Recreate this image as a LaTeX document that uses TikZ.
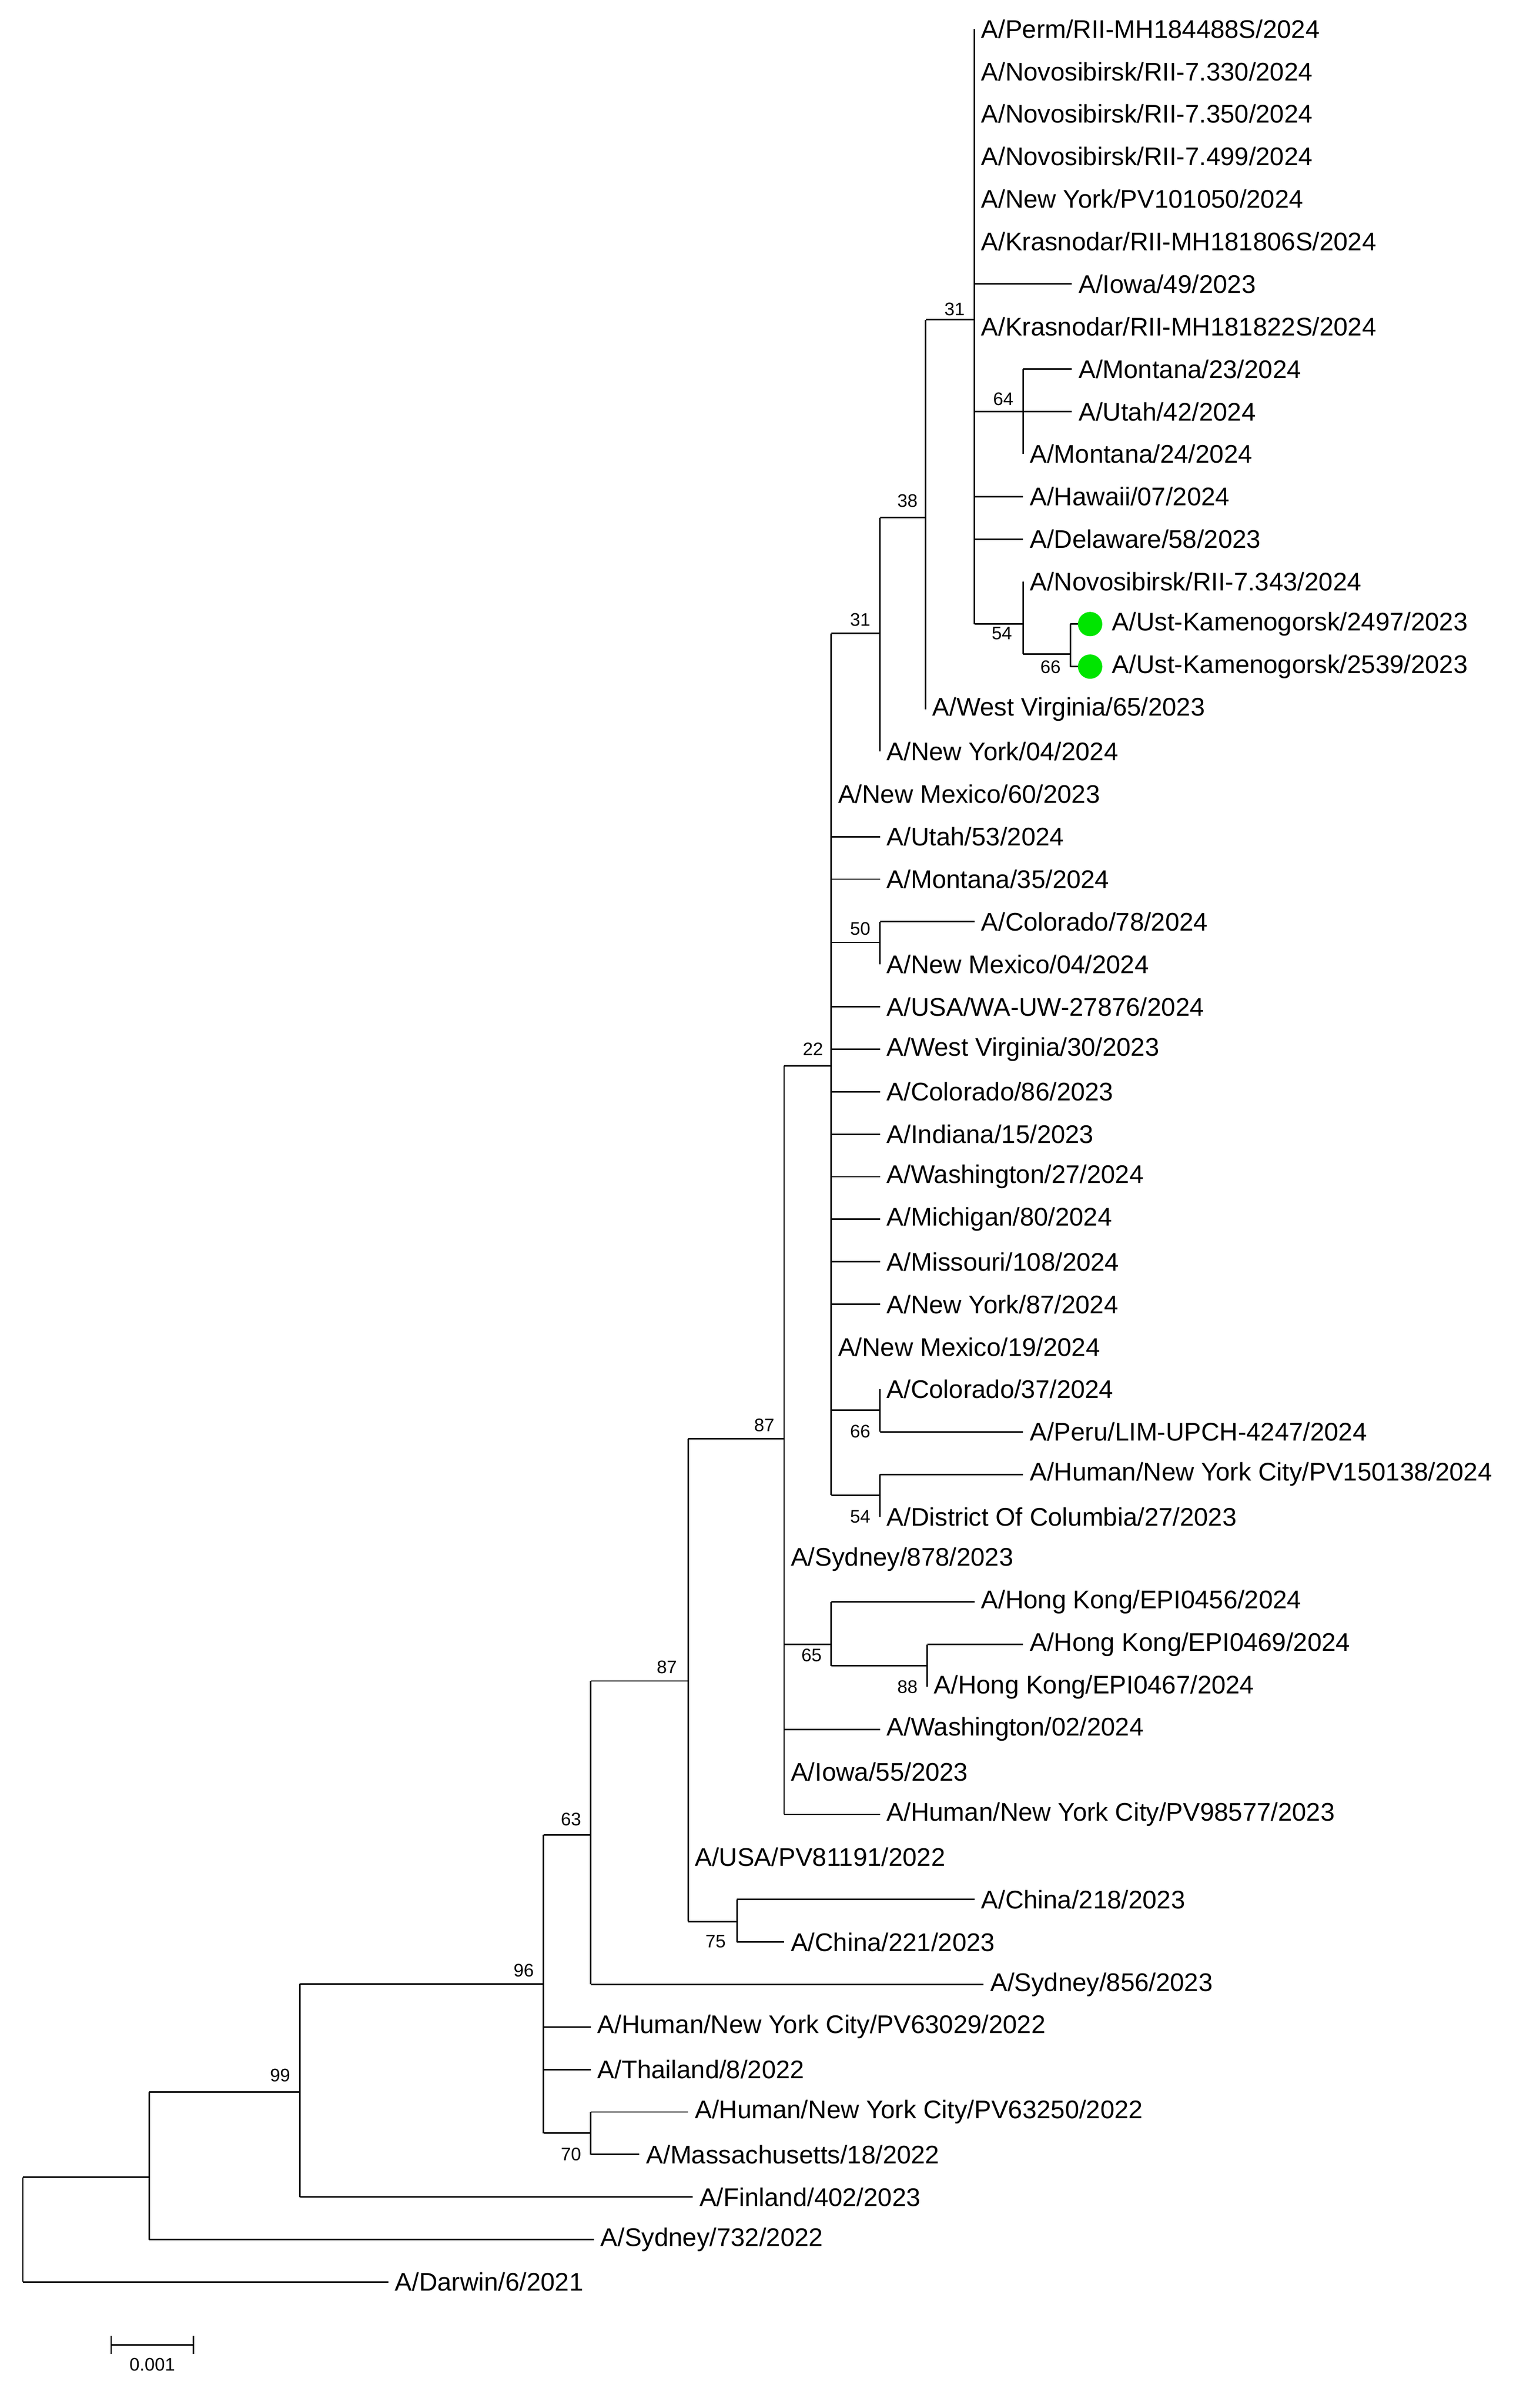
\documentclass[tikz,border=0pt]{standalone}
\usepackage{fontspec}
\setmainfont{Liberation Sans}
\newcommand\R[1]{(19+27.92*(#1))}
\newcommand\leaf[4]{\draw (#2,{\R{#1}}) -- (#3,{\R{#1}}); \node[lf] at ({#3+4},{\R{#1}}) {#4};}
\newcommand\vl[3]{\draw (#1,{\R{#2}}) -- (#1,{\R{#3}});}
\newcommand\bs[3]{\node[bsl] at (#1,#2) {#3};}
\begin{document}
\begin{tikzpicture}[x=0.025cm,y=-0.025cm,line width=0.7pt,
 lf/.style={anchor=west,inner sep=0pt,font=\fontsize{11.9}{12}\selectfont},
 bsl/.style={inner sep=0pt,font=\fontsize{8.5}{9}\selectfont}]
\useasboundingbox (0,0) rectangle (1000,1581.5);
% clade 31 top at x=640
\vl{640}{0}{14}
\leaf{0}{640}{640}{A/Perm/RII-MH184488S/2024}
\leaf{1}{640}{640}{A/Novosibirsk/RII-7.330/2024}
\leaf{2}{640}{640}{A/Novosibirsk/RII-7.350/2024}
\leaf{3}{640}{640}{A/Novosibirsk/RII-7.499/2024}
\leaf{4}{640}{640}{A/New York/PV101050/2024}
\leaf{5}{640}{640}{A/Krasnodar/RII-MH181806S/2024}
\leaf{7}{640}{640}{A/Krasnodar/RII-MH181822S/2024}
\leaf{6}{640}{704}{A/Iowa/49/2023}
\leaf{9}{640}{672}{}
\vl{672}{8}{10}
\leaf{8}{672}{704}{A/Montana/23/2024}
\leaf{9}{672}{704}{A/Utah/42/2024}
\leaf{10}{672}{672}{A/Montana/24/2024}
\bs{659}{262}{64}
\leaf{11}{640}{672}{A/Hawaii/07/2024}
\leaf{12}{640}{672}{A/Delaware/58/2023}
\leaf{14}{640}{672}{}
\vl{672}{13}{14.7}
\leaf{13}{672}{672}{A/Novosibirsk/RII-7.343/2024}
\leaf{14.7}{672}{703}{}
\vl{703}{14}{15}
\draw (703,{\R{14}}) -- (710,{\R{14}}); \draw (703,{\R{15}}) -- (710,{\R{15}});
\fill[green!90!black] (716,{\R{14}}) circle (8); \fill[green!90!black] (716,{\R{15}}) circle (8);
\node[lf] at (730,{\R{14}}) {A/Ust-Kamenogorsk/2497/2023};
\node[lf] at (730,{\R{15}}) {A/Ust-Kamenogorsk/2539/2023};
\bs{658}{416}{54}\bs{690}{438}{66}
% 38
\draw (608,210) -- (640,210); \bs{627}{203}{31}
\draw (608,210) -- (608,{\R{16}});
\leaf{16}{608}{608}{A/West Virginia/65/2023}
\draw (578,340) -- (608,340); \bs{596}{329}{38}
\draw (578,340) -- (578,{\R{17}});
\leaf{17}{578}{578}{A/New York/04/2024}
\draw (546,416) -- (578,416); \bs{565}{407}{31}
% big polytomy at 546
\draw (546,416) -- (546,982);
\leaf{18}{546}{546}{A/New Mexico/60/2023}
\leaf{19}{546}{578}{A/Utah/53/2024}
\leaf{20}{546}{578}{A/Montana/35/2024}
\draw (546,619) -- (578,619); \bs{565}{610}{50}
\vl{578}{21}{22}
\leaf{21}{578}{640}{A/Colorado/78/2024}
\leaf{22}{578}{578}{A/New Mexico/04/2024}
\leaf{23}{546}{578}{A/USA/WA-UW-27876/2024}
\leaf{24}{546}{578}{A/West Virginia/30/2023}
\leaf{25}{546}{578}{A/Colorado/86/2023}
\leaf{26}{546}{578}{A/Indiana/15/2023}
\leaf{27}{546}{578}{A/Washington/27/2024}
\leaf{28}{546}{578}{A/Michigan/80/2024}
\leaf{29}{546}{578}{A/Missouri/108/2024}
\leaf{30}{546}{578}{A/New York/87/2024}
\leaf{31}{546}{546}{A/New Mexico/19/2024}
\draw (546,926) -- (578,926); \bs{565}{940}{66}
\vl{578}{32}{33}
\leaf{32}{578}{578}{A/Colorado/37/2024}
\leaf{33}{578}{672}{A/Peru/LIM-UPCH-4247/2024}
\draw (546,982) -- (578,982); \bs{565}{996}{54}
\vl{578}{34}{35}
\leaf{34}{578}{672}{A/Human/New York City/PV150138/2024}
\leaf{35}{578}{578}{A/District Of Columbia/27/2023}
% 22 node
\draw (515,700) -- (546,700); \bs{534}{689}{22}
\draw (515,700) -- (515,{\R{42}});
\leaf{36}{515}{515}{A/Sydney/878/2023}
\draw (515,1080) -- (546,1080); \bs{533}{1087}{65}
\draw (546,{\R{37}}) -- (546,1094);
\leaf{37}{546}{640}{A/Hong Kong/EPI0456/2024}
\draw (546,1094) -- (609,1094); \bs{596}{1108}{88}
\vl{609}{38}{39}
\leaf{38}{609}{672}{A/Hong Kong/EPI0469/2024}
\leaf{39}{609}{609}{A/Hong Kong/EPI0467/2024}
\leaf{40}{515}{578}{A/Washington/02/2024}
\leaf{41}{515}{515}{A/Iowa/55/2023}
\leaf{42}{515}{578}{A/Human/New York City/PV98577/2023}
% 87
\draw (452,945) -- (515,945); \bs{502}{936}{87}
\draw (452,945) -- (452,1262);
\leaf{43}{452}{452}{A/USA/PV81191/2022}
\draw (452,1262) -- (484,1262); \bs{470}{1275}{75}
\vl{484}{44}{45}
\leaf{44}{484}{640}{A/China/218/2023}
\leaf{45}{484}{515}{A/China/221/2023}
% 87 second
\draw (388,1104) -- (452,1104); \bs{438}{1095}{87}
\draw (388,1104) -- (388,{\R{46}});
\leaf{46}{388}{646}{A/Sydney/856/2023}
% 63
\draw (357,1205) -- (388,1205); \bs{375}{1195}{63}
\draw (357,1205) -- (357,1401);
\leaf{47}{357}{388}{A/Human/New York City/PV63029/2022}
\leaf{48}{357}{388}{A/Thailand/8/2022}
\draw (357,1401) -- (388,1401); \bs{375}{1415}{70}
\vl{388}{49}{50}
\leaf{49}{388}{452}{A/Human/New York City/PV63250/2022}
\leaf{50}{388}{420}{A/Massachusetts/18/2022}
% 96
\draw (197,1303) -- (357,1303); \bs{344}{1294}{96}
\draw (197,1303) -- (197,{\R{51}});
\leaf{51}{197}{455}{A/Finland/402/2023}
% 99
\draw (98,1374) -- (197,1374); \bs{184}{1363}{99}
\draw (98,1374) -- (98,{\R{52}});
\leaf{52}{98}{390}{A/Sydney/732/2022}
% root
\draw (15,1430) -- (98,1430);
\draw (15,1430) -- (15,{\R{53}});
\leaf{53}{15}{255}{A/Darwin/6/2021}
% scale bar
\draw (73,1540) -- (127,1540); \draw (73,1534) -- (73,1546); \draw (127,1534) -- (127,1546);
\bs{100}{1553}{0.001}
\end{tikzpicture}
\end{document}
